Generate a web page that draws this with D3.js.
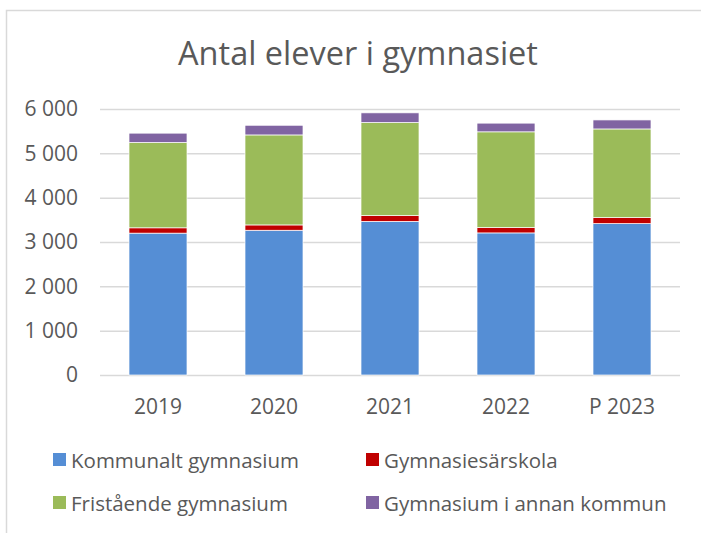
<!DOCTYPE html>
<html><head><meta charset="utf-8">
<script src="https://cdn.jsdelivr.net/npm/d3@7"></script>
<style>body{margin:0;background:#fff}svg{display:block}text{font-family:"Open Sans",sans-serif;fill:#595959}</style>
</head><body>
<svg id="c" width="701" height="533"></svg>
<script>
const categories = ["2019","2020","2021","2022","P 2023"];
const seriesNames = ["Kommunalt gymnasium","Gymnasiesärskola","Fristående gymnasium","Gymnasium i annan kommun"];
const kommunalt = [3200,3265,3465,3205,3415];
const sarskola = [120,120,130,120,135];
const fristaende = [1925,2030,2100,2160,2000];
const annanKommun = [210,218,218,196,203];
const yTicks = [0,1000,2000,3000,4000,5000,6000];
const colors = ["#558ED5","#C00000","#9BBB59","#8064A2"];

const rows = categories.map((c,i)=>({cat:c, s0:kommunalt[i], s1:sarskola[i], s2:fristaende[i], s3:annanKommun[i]}));
const keys = ["s0","s1","s2","s3"];
const stack = d3.stack().keys(keys)(rows);

const svg = d3.select("#c");
svg.append("rect").attr("x",6.5).attr("y",10.5).attr("width",720).attr("height",540)
  .attr("fill","none").attr("stroke","#d9d9d9").attr("stroke-width",1.5);

svg.append("text").attr("x",358).attr("y",65).attr("text-anchor","middle")
  .style("font-size","32.5px").text("Antal elever i gymnasiet");

const x = d3.scaleBand().domain(categories).range([100,680]).paddingInner(0.5).paddingOuter(0.25);
const y = d3.scaleLinear().domain([0,6000]).range([375,109]);
const fmt = v => d3.format(",")(v).replace(/,/g," ");

const gy = svg.append("g").attr("transform","translate(100,0)")
  .call(d3.axisLeft(y).tickValues(yTicks).tickSize(-580).tickFormat(fmt).tickPadding(22));
gy.select(".domain").remove();
gy.selectAll(".tick line").attr("stroke","#d9d9d9").attr("stroke-width",1.5);
gy.selectAll(".tick text").style("font-size","21px").attr("fill","#595959").style("font-family","'Open Sans',sans-serif");

svg.append("g").selectAll("g").data(stack).join("g").attr("fill",(d,i)=>colors[i])
  .selectAll("rect").data(d=>d).join("rect")
  .attr("x",d=>x(d.data.cat)).attr("width",x.bandwidth())
  .attr("y",d=>y(d[1])).attr("height",d=>y(d[0])-y(d[1]))
  .attr("stroke","#fff").attr("stroke-width",0.7);

const gx = svg.append("g").attr("transform","translate(0,375)")
  .call(d3.axisBottom(x).tickSize(0).tickPadding(24));
gx.select(".domain").remove();
gx.selectAll(".tick text").style("font-size","21px").attr("fill","#595959").style("font-family","'Open Sans',sans-serif");

const legPos = [[50,460],[363,460],[50,503],[363,503]];
const leg = svg.append("g").selectAll("g").data(seriesNames).join("g")
  .attr("transform",(d,i)=>`translate(${legPos[i][0]},${legPos[i][1]})`);
leg.append("rect").attr("x",3).attr("y",-7).attr("width",13).attr("height",13).attr("fill",(d,i)=>colors[i]);
leg.append("text").attr("x",21).attr("y",7.5).style("font-size","20.5px").text(d=>d);
</script>
</body></html>
